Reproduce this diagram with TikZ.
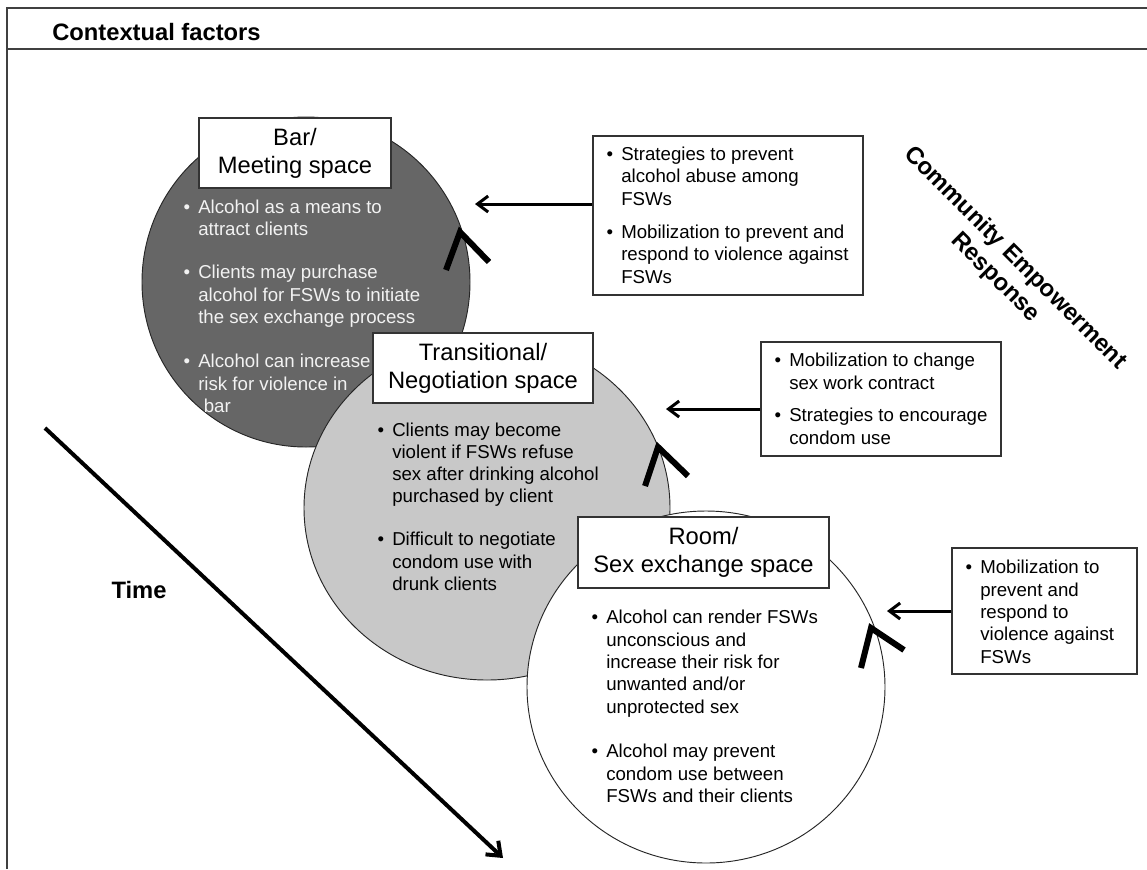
\documentclass[tikz,border=0pt]{standalone}
\usepackage{fontspec}
\setmainfont{Liberation Sans}
\usetikzlibrary{arrows.meta,shapes.geometric}
\definecolor{cone}{RGB}{102,102,102}
\definecolor{ctwo}{RGB}{200,200,200}
\definecolor{ctxt}{RGB}{242,242,242}
\newcommand{\bul}{\llap{\textbullet\hspace{6pt}}}
\begin{document}
\begin{tikzpicture}[x=0.75pt,y=-0.75pt,
  body/.style={font=\fontsize{14}{16.7}\selectfont, align=left, anchor=base west, inner sep=0pt},
  titlebox/.style={draw=black!80, fill=white, line width=0.8pt, font=\fontsize{17.8}{21}\selectfont, align=center, inner sep=0pt},
  rbox/.style={draw=black!80, fill=white, line width=0.8pt, inner sep=0pt},
  disc/.style={ellipse, draw=black!85, line width=0.7pt, inner sep=0pt},
  arr/.style={line width=2.25pt, -{Straight Barb[length=8pt,width=12pt]}},
  tarr/.style={line width=3pt, -{Straight Barb[length=9pt,width=14pt]}},
  chev/.style={line width=4.5pt, line join=miter, miter limit=10},
  frame/.style={draw=black!75, line width=1.1pt},
  boldlbl/.style={font=\bfseries\fontsize{17.8}{21}\selectfont, inner sep=0pt}]

\useasboundingbox (0,0) rectangle (1147,869);
\draw[frame] (7,869) -- (7,8) -- (1147,8);
\draw[frame] (7,49) -- (1147,49);
\node[boldlbl, anchor=west] (hdr) at (52,32) {Contextual factors};

% circles
\node[disc, fill=cone, minimum width={328*0.75pt}, minimum height={330*0.75pt}] (s1) at (306,282) {};
\node[disc, fill=ctwo, minimum width={366*0.75pt}, minimum height={344*0.75pt}] (s2) at (487,508) {};
\node[disc, fill=white, minimum width={358*0.75pt}, minimum height={352*0.75pt}] (s3) at (706,687) {};

% circle titles
\node[titlebox, minimum width={192*0.75pt}, minimum height={70*0.75pt}] (t1) at (295,153) {Bar/\\Meeting space};
\node[titlebox, minimum width={220*0.75pt}, minimum height={70*0.75pt}] (t2) at (483,368) {Transitional/\\Negotiation space};
\node[titlebox, minimum width={251*0.75pt}, minimum height={71*0.75pt}] (t3) at (703.5,552.5) {Room/\\Sex exchange space};

% circle texts (anchor = baseline of last line)
\node[body, text=ctxt] (p11) at (198,235.3) {\bul Alcohol as a means to\\attract clients};
\node[body, text=ctxt] (p12) at (198,323.5) {\bul Clients may purchase\\alcohol for FSWs to initiate\\the sex exchange process};
\node[body, text=ctxt] (p13) at (198,412.5) {\bul Alcohol can increase\\risk for violence in\\\hspace{0.3em}bar};

\node[body] (p21) at (392,502.8) {\bul Clients may become\\violent if FSWs refuse\\sex after drinking alcohol\\purchased by client};
\node[body] (p22) at (392,590.5) {\bul Difficult to negotiate\\condom use with\\drunk clients};

\node[body] (p31) at (606,713) {\bul Alcohol can render FSWs\\unconscious and\\increase their risk for\\unwanted and/or\\unprotected sex};
\node[body] (p32) at (606,802.5) {\bul Alcohol may prevent\\condom use between\\FSWs and their clients};

% response boxes
\node[rbox, minimum width={270*0.75pt}, minimum height={159*0.75pt}] (bA) at (728,215.5) {};
\node[rbox, minimum width={240*0.75pt}, minimum height={114*0.75pt}] (bB) at (881,399) {};
\node[rbox, minimum width={185*0.75pt}, minimum height={126*0.75pt}] (bC) at (1044.5,611) {};

\node[body] (qA1) at (621,205) {\bul Strategies to prevent\\alcohol abuse among\\FSWs};
\node[body] (qA2) at (621,283) {\bul Mobilization to prevent and\\respond to violence against\\FSWs};
\node[body] (qB1) at (789,389) {\bul Mobilization to change\\sex work contract};
\node[body] (qB2) at (789,444) {\bul Strategies to encourage\\condom use};
\node[body] (qC1) at (980,663) {\bul Mobilization to\\prevent and\\respond to\\violence against\\FSWs};

% arrows
\coordinate (tA) at (475,204);
\coordinate (tB) at (666,409);
\coordinate (tC) at (887,611);
\draw[arr] (tA -| bA.west) -- (tA);
\draw[arr] (tB -| bB.west) -- (tB);
\draw[arr] (tC -| bC.west) -- (tC);

% chevrons
\coordinate (c1l) at (446,270); \coordinate (c1a) at (460,232); \coordinate (c1r) at (489,262);
\coordinate (c2l) at (645,486); \coordinate (c2a) at (658,447); \coordinate (c2r) at (688,476);
\coordinate (c3l) at (861,668); \coordinate (c3a) at (871,628); \coordinate (c3r) at (904,650);
\draw[chev] (c1l) -- (c1a) -- (c1r);
\draw[chev] (c2l) -- (c2a) -- (c2r);
\draw[chev] (c3l) -- (c3a) -- (c3r);

% time
\coordinate (ts) at (45,428);
\coordinate (te) at (503,858);
\draw[tarr] (ts) -- (te);
\node[boldlbl] (time) at (139,590) {Time};

\node[font=\bfseries\fontsize{18}{21}\selectfont, align=center, rotate=-45, inner sep=0pt] (cer) at (1005,268) {Community Empowerment\\Response};
\end{tikzpicture}
\end{document}
